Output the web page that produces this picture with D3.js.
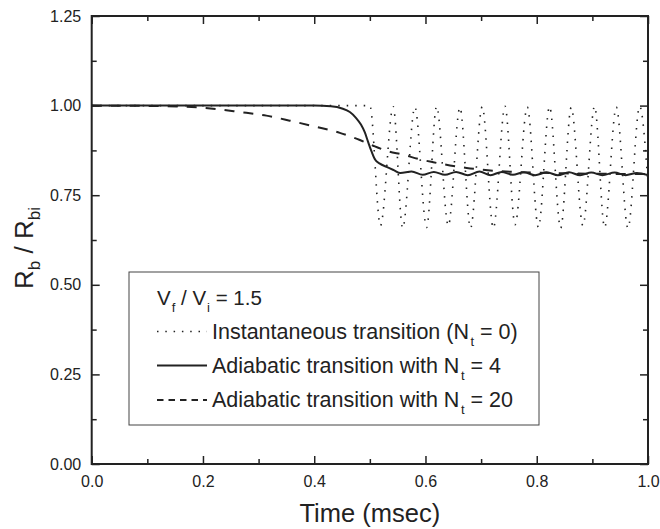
<!DOCTYPE html>
<html>
<head>
<meta charset="utf-8">
<script src="https://cdn.jsdelivr.net/npm/d3@7"></script>
<style>
  body { margin: 0; background: #fff; }
  text { font-family: "Liberation Sans", Arial, sans-serif; fill: #222; }
</style>
</head>
<body>
<svg id="chart"></svg>
<script>
// N_t = 0 : instantaneous transition (extrema)
const instTime = [0, 0.500, 0.519, 0.542, 0.559, 0.581, 0.602, 0.620, 0.641, 0.662, 0.681, 0.702, 0.722,
                  0.743, 0.761, 0.783, 0.803, 0.823, 0.843, 0.862, 0.883, 0.904, 0.922, 0.943, 0.964, 0.985, 1.0];
const instRb = [1.0, 1.0, 0.665, 0.997, 0.658, 0.996, 0.660, 0.998, 0.665, 0.995, 0.658, 0.997, 0.658,
                0.998, 0.668, 0.996, 0.660, 0.997, 0.658, 0.995, 0.665, 0.998, 0.660, 0.996, 0.658, 0.998, 0.78];

// N_t = 4
const adi4Time = [0, 0.40, 0.43, 0.45, 0.464, 0.475, 0.484, 0.491, 0.497, 0.503, 0.509, 0.518, 0.53, 0.543, 0.555,
                  0.575, 0.595, 0.615, 0.635, 0.655, 0.676, 0.697, 0.717, 0.737, 0.757, 0.777, 0.797,
                  0.818, 0.838, 0.858, 0.878, 0.898, 0.918, 0.94, 0.96, 0.98, 1.0];
const adi4Rb = [1.0, 1.0, 0.998, 0.992, 0.982, 0.966, 0.947, 0.925, 0.898, 0.872, 0.850, 0.838, 0.829, 0.820, 0.812,
                0.816, 0.807, 0.815, 0.807, 0.815, 0.806, 0.816, 0.806, 0.815, 0.807, 0.814, 0.806,
                0.814, 0.806, 0.814, 0.806, 0.813, 0.806, 0.813, 0.806, 0.812, 0.806];

// N_t = 20
const adi20Time = [0, 0.1, 0.165, 0.2, 0.267, 0.314, 0.356, 0.40, 0.446, 0.482, 0.506, 0.53, 0.56, 0.59,
                   0.614, 0.644, 0.674, 0.703, 0.734, 0.79, 0.85, 0.9, 1.0];
const adi20Rb = [1.0, 0.999, 0.997, 0.994, 0.982, 0.972, 0.958, 0.942, 0.924, 0.904, 0.888, 0.874, 0.863, 0.850,
                 0.842, 0.833, 0.826, 0.821, 0.817, 0.813, 0.811, 0.810, 0.809];

const xTicks = [0, 0.2, 0.4, 0.6, 0.8, 1.0];
const xMinorTicks = [0.1, 0.3, 0.5, 0.7, 0.9];
const yTicks = [0, 0.25, 0.5, 0.75, 1.0, 1.25];
const yMinorTicks = [0.125, 0.375, 0.625, 0.875, 1.125];

const legendLabels = [
    ["Instantaneous transition (N", "t", " = 0)"],
    ["Adiabatic transition with N", "t", " = 4"],
    ["Adiabatic transition with N", "t", " = 20"]
];
const legendDash = ["1.5,6.8", null, "6.5,5"];

const width = 660;
const height = 529;
const margin = {top: 16, right: 12, bottom: 65, left: 91.7};
const ink = "#222";

const svg = d3.select("#chart")
    .attr("width", width)
    .attr("height", height);

const x = d3.scaleLinear().domain([0, 1]).range([margin.left, width - margin.right]);
const y = d3.scaleLinear().domain([0, 1.25]).range([height - margin.bottom, margin.top]);

const toPoints = (ts, vs) => ts.map((t, i) => [t, vs[i]]);
const line = d3.line()
    .x(d => x(d[0]))
    .y(d => y(d[1]))
    .curve(d3.curveMonotoneX);

const plot = svg.append("g");
plot.append("clipPath").attr("id", "clip")
    .append("rect")
    .attr("x", x(0)).attr("y", y(1.25))
    .attr("width", x(1) - x(0)).attr("height", y(0) - y(1.25));

const curves = plot.append("g").attr("clip-path", "url(#clip)");

curves.append("path")
    .attr("d", line(toPoints(instTime, instRb)))
    .attr("fill", "none")
    .attr("stroke", ink)
    .attr("stroke-width", 1.6)
    .attr("stroke-dasharray", "1.5,7");

curves.append("path")
    .attr("d", line(toPoints(adi4Time, adi4Rb)))
    .attr("fill", "none")
    .attr("stroke", ink)
    .attr("stroke-width", 2);

curves.append("path")
    .attr("d", line(toPoints(adi20Time, adi20Rb)))
    .attr("fill", "none")
    .attr("stroke", ink)
    .attr("stroke-width", 2)
    .attr("stroke-dasharray", "10,9");

// axes, ticks pointing inward on all four sides
function styleAxis(g) {
    g.select(".domain").remove();
    g.selectAll(".tick line").attr("stroke", ink).attr("stroke-width", 1.5);
    g.selectAll(".tick text").attr("font-size", 16).attr("fill", ink)
        .style("font-family", '"Liberation Sans", Arial, sans-serif');
}

const plotBottom = y(0);
const plotTop = y(1.25);
const plotLeft = x(0);
const plotRight = x(1);

svg.append("g").attr("transform", `translate(0,${plotBottom})`)
    .call(d3.axisBottom(x).tickValues(xTicks).tickSizeInner(-8).tickSizeOuter(0)
        .tickPadding(11.6).tickFormat(d3.format(".1f")))
    .call(styleAxis);
svg.append("g").attr("transform", `translate(0,${plotBottom})`)
    .call(d3.axisBottom(x).tickValues(xMinorTicks).tickSizeInner(-5).tickSizeOuter(0).tickFormat(""))
    .call(styleAxis);
svg.append("g").attr("transform", `translate(0,${plotTop})`)
    .call(d3.axisTop(x).tickValues(xTicks).tickSizeInner(-8).tickSizeOuter(0).tickFormat(""))
    .call(styleAxis);
svg.append("g").attr("transform", `translate(0,${plotTop})`)
    .call(d3.axisTop(x).tickValues(xMinorTicks).tickSizeInner(-5).tickSizeOuter(0).tickFormat(""))
    .call(styleAxis);

svg.append("g").attr("transform", `translate(${plotLeft},0)`)
    .call(d3.axisLeft(y).tickValues(yTicks).tickSizeInner(-8).tickSizeOuter(0)
        .tickPadding(10.5).tickFormat(d3.format(".2f")))
    .call(styleAxis);
svg.append("g").attr("transform", `translate(${plotLeft},0)`)
    .call(d3.axisLeft(y).tickValues(yMinorTicks).tickSizeInner(-5).tickSizeOuter(0).tickFormat(""))
    .call(styleAxis);
svg.append("g").attr("transform", `translate(${plotRight},0)`)
    .call(d3.axisRight(y).tickValues(yTicks).tickSizeInner(-8).tickSizeOuter(0).tickFormat(""))
    .call(styleAxis);
svg.append("g").attr("transform", `translate(${plotRight},0)`)
    .call(d3.axisRight(y).tickValues(yMinorTicks).tickSizeInner(-5).tickSizeOuter(0).tickFormat(""))
    .call(styleAxis);

// frame
svg.append("rect")
    .attr("x", plotLeft).attr("y", plotTop)
    .attr("width", plotRight - plotLeft).attr("height", plotBottom - plotTop)
    .attr("fill", "none")
    .attr("stroke", ink)
    .attr("stroke-width", 2);

// axis titles
svg.append("text")
    .attr("x", (plotLeft + plotRight) / 2)
    .attr("y", 522)
    .attr("text-anchor", "middle")
    .attr("font-size", 25.5)
    .text("Time (msec)");

const yTitle = svg.append("text")
    .attr("transform", `translate(33,${(plotTop + plotBottom) / 2 + 8}) rotate(-90)`)
    .attr("text-anchor", "middle")
    .attr("font-size", 26);
yTitle.append("tspan").text("R");
yTitle.append("tspan").attr("font-size", 17).attr("dy", 7).text("b");
yTitle.append("tspan").attr("dy", -7).text(" / R");
yTitle.append("tspan").attr("font-size", 17).attr("dy", 7).text("bi");

// legend
const legend = svg.append("g");
legend.append("rect")
    .attr("x", 129).attr("y", 272)
    .attr("width", 410).attr("height", 153)
    .attr("fill", "#fff")
    .attr("stroke", "#444")
    .attr("stroke-width", 1);

const head = legend.append("text")
    .attr("x", 157).attr("y", 305)
    .attr("font-size", 20.5);
head.append("tspan").text("V");
head.append("tspan").attr("font-size", 13).attr("dx", 1).attr("dy", 7).text("f");
head.append("tspan").attr("dy", -7).text(" / V");
head.append("tspan").attr("font-size", 13).attr("dx", 1).attr("dy", 7).text("i");
head.append("tspan").attr("dy", -7).text(" = 1.5");

const rowY = [338.5, 372.5, 407];
legendLabels.forEach((lab, i) => {
    legend.append("line")
        .attr("x1", 157).attr("x2", 207)
        .attr("y1", rowY[i] - 7).attr("y2", rowY[i] - 7)
        .attr("stroke", ink)
        .attr("stroke-width", i === 0 ? 1.5 : 2)
        .attr("stroke-dasharray", legendDash[i]);
    const t = legend.append("text")
        .attr("x", 212).attr("y", rowY[i])
        .attr("font-size", 21.5);
    t.append("tspan").text(lab[0]);
    t.append("tspan").attr("font-size", 13).attr("dx", 1.5).attr("dy", 7).text(lab[1]);
    t.append("tspan").attr("dy", -7).text(lab[2]);
});
</script>
</body>
</html>
